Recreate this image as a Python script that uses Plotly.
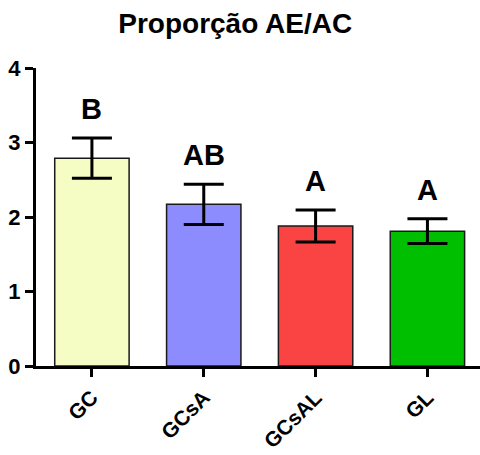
import plotly.graph_objects as go

# Group means, standard errors and significance letters
groups = ["GC", "GCsA", "GCsAL", "GL"]
means = [2.79, 2.17, 1.88, 1.81]
errors = [0.27, 0.27, 0.215, 0.165]
letters = ["B", "AB", "A", "A"]
bar_colors = ["#F5FCC4", "#8C8CFF", "#FA4444", "#00BE00"]
y_ticks = [0, 1, 2, 3, 4]

FONT = "Liberation Sans, Arial, sans-serif"

fig = go.Figure(
    go.Bar(
        x=groups,
        y=means,
        marker=dict(color=bar_colors, line=dict(color="#1a1a1a", width=1.5)),
        error_y=dict(type="data", array=errors, visible=True,
                     color="black", thickness=3, width=20),
        showlegend=False,
    )
)

for g, m, e, t in zip(groups, means, errors, letters):
    fig.add_annotation(
        x=g, y=m + e, text=t, showarrow=False,
        yanchor="bottom", yshift=11,
        font=dict(family=FONT, size=29, color="black", weight="bold"),
    )

fig.update_layout(
    width=480, height=455,
    margin=dict(l=36, r=0, t=68, b=89, autoexpand=False),
    plot_bgcolor="white", paper_bgcolor="white",
    bargap=0.335,
    title=dict(text="Proporção AE/AC", x=0.49, xanchor="center",
               y=1 - 23 / 455, yanchor="middle",
               font=dict(family=FONT, size=28, color="black", weight="bold")),
    font=dict(family=FONT, color="black"),
)

fig.update_xaxes(
    range=[-0.5, 3.47], automargin=False,
    showline=True, linecolor="black", linewidth=3,
    ticks="outside", ticklen=8, tickwidth=3, tickcolor="black",
    tickangle=-45, ticklabelstandoff=0,
    tickfont=dict(family=FONT, size=21, color="black", weight="bold"),
    showgrid=False, zeroline=False,
)
fig.update_yaxes(
    range=[0, 4], tickvals=y_ticks, automargin=False,
    showline=True, linecolor="black", linewidth=3,
    ticks="outside", ticklen=8, tickwidth=3, tickcolor="black",
    tickfont=dict(family=FONT, size=22, color="black", weight="bold"),
    ticklabelstandoff=0,
    showgrid=False, zeroline=False,
)

fig.write_html("out.html")
